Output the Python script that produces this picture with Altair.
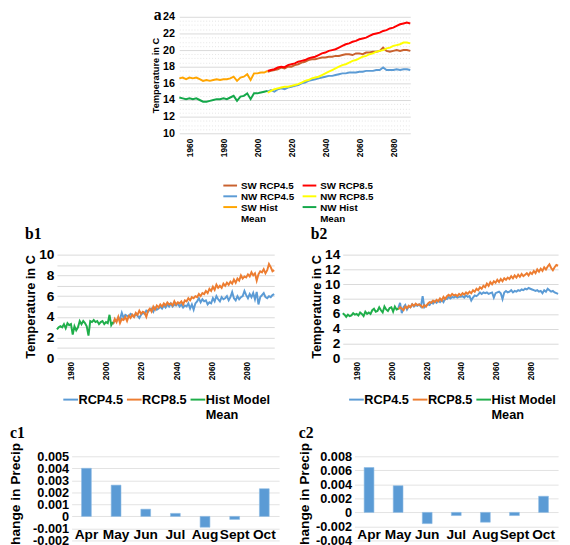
import altair as alt
import pandas as pd

FONT = "Liberation Sans"
SERIF = "Liberation Serif"

# ---------------- Panel a data ----------------
a_hist_years = list(range(1954, 2007, 2))
a_sw_hist = [16.6, 16.7, 16.5, 16.7, 16.6, 16.7, 16.5, 16.3, 16.4, 16.3,
             16.4, 16.5, 16.4, 16.5, 16.5, 16.6, 16.8, 16.3, 16.7, 16.8,
             17.1, 16.4, 17.2, 17.2, 17.3, 17.3, 17.5]
a_nw_hist = [14.3, 14.2, 14.1, 14.2, 14.1, 14.2, 14.0, 13.8, 13.8, 13.9,
             14.0, 14.1, 14.1, 14.2, 14.1, 14.3, 14.5, 13.9, 14.4, 14.5,
             14.8, 14.1, 14.8, 14.8, 14.9, 15.0, 15.1]
a_rcp_years = list(range(2006, 2091, 2))
a_sw_rcp45 = [17.4, 17.5, 17.6, 17.7, 17.9, 17.8, 18.0, 18.0, 18.2, 18.3,
              18.5, 18.6, 18.8, 18.9, 18.9, 19.0, 19.1, 19.1, 19.2, 19.2,
              19.3, 19.3, 19.4, 19.5, 19.5, 19.4, 19.6, 19.6, 19.5, 19.7,
              19.7, 19.8, 19.8, 19.9, 20.3, 19.9, 19.8, 19.9, 20.0, 19.9,
              20.0, 20.0, 19.9]
a_sw_rcp85 = [17.5, 17.6, 17.7, 17.9, 18.0, 17.95, 18.2, 18.3, 18.4, 18.6,
              18.7, 18.8, 19.0, 19.1, 19.2, 19.4, 19.6, 19.7, 19.9, 20.0,
              20.1, 20.3, 20.5, 20.7, 20.8, 21.0, 21.1, 21.3, 21.4, 21.5,
              21.7, 21.9, 22.0, 22.1, 22.3, 22.4, 22.6, 22.7, 22.9, 23.1,
              23.2, 23.3, 23.2]
a_nw_rcp45 = [15.0, 15.2, 15.0, 15.3, 15.4, 15.3, 15.5, 15.6, 15.7, 15.8,
              16.0, 16.1, 16.3, 16.4, 16.5, 16.6, 16.7, 16.8, 16.9, 16.9,
              17.0, 17.1, 17.2, 17.2, 17.3, 17.3, 17.3, 17.4, 17.4, 17.5,
              17.5, 17.5, 17.6, 17.6, 17.9, 17.6, 17.6, 17.6, 17.7, 17.6,
              17.7, 17.7, 17.6]
a_nw_rcp85 = [14.9, 15.1, 15.3, 15.4, 15.5, 15.6, 15.6, 15.7, 15.8, 15.9,
              16.1, 16.3, 16.4, 16.6, 16.7, 16.8, 17.0, 17.2, 17.4, 17.6,
              17.8, 18.0, 18.2, 18.3, 18.5, 18.7, 18.8, 19.0, 19.2, 19.3,
              19.5, 19.6, 19.8, 19.9, 20.0, 20.2, 20.3, 20.5, 20.6, 20.7,
              20.9, 20.9, 20.8]
a_names = ["SW RCP4.5", "SW RCP8.5", "NW RCP4.5", "NW RCP8.5", "SW Hist Mean", "NW Hist Mean"]
a_colors = ["#c9612e", "#ff0000", "#5b9bd5", "#ffff00", "#ffa500", "#14a84a"]
a_xticks = [1960, 1980, 2000, 2020, 2040, 2060, 2080]
a_yticks = [10, 10.5, 11, 11.5, 12, 12.5, 13, 13.5, 14, 14.5, 15, 15.5, 16, 16.5,
            17, 17.5, 18, 18.5, 19, 19.5, 20, 20.5, 21, 21.5, 22, 22.5, 23, 23.5, 24]

# ---------------- Panel b data ----------------
b_hist_years = list(range(1972, 2005))
b_rcp_years = list(range(2004, 2097))
b1_hist = [2.8, 3.0, 3.1, 3.0, 3.3, 2.9, 3.4, 3.2, 3.3, 2.3,
           3.1, 2.7, 3.0, 3.6, 3.3, 3.6, 3.4, 3.1, 2.2, 3.6,
           3.5, 3.7, 3.5, 3.6, 3.3, 3.5, 3.6, 3.3, 3.5, 3.4,
           4.2, 3.2, 3.5]
b1_rcp45 = [3.3, 3.7, 3.6, 3.9, 3.8, 4.4, 3.9, 4.2, 4.1, 4.0,
            4.3, 4.2, 4.0, 4.3, 4.1, 3.9, 4.2, 4.4, 4.3, 4.6,
            4.5, 4.7, 4.8, 4.5, 4.9, 4.7, 4.8, 5.0, 4.8, 5.1,
            4.9, 5.2, 5.0, 5.3, 5.0, 5.2, 5.1, 5.3, 5.0, 5.2,
            4.9, 5.1, 5.0, 5.3, 4.8, 5.2, 4.7, 5.3, 5.5, 5.8,
            5.4, 5.7, 5.5, 5.6, 5.2, 5.4, 5.3, 5.8, 5.5, 6.0,
            5.7, 5.5, 5.9, 5.7, 5.8, 6.0, 5.6, 5.9, 6.4, 5.8,
            5.6, 6.0, 5.7, 5.9, 6.0, 6.5, 6.1, 5.8, 6.2, 5.9,
            6.3, 5.7, 6.4, 5.2, 5.9, 6.1, 6.3, 5.9, 5.8, 6.0,
            5.9, 6.1, 6.2]
b1_rcp85 = [3.3, 3.8, 3.5, 4.0, 3.4, 3.8, 3.7, 4.0, 3.6, 4.1,
            3.9, 4.2, 4.0, 4.4, 4.2, 4.6, 4.3, 4.5, 4.4, 4.0,
            4.6, 4.8, 4.5, 5.0, 4.7, 5.1, 4.9, 5.2, 5.0, 5.3,
            5.1, 5.4, 5.2, 5.3, 5.1, 5.5, 5.2, 5.4, 5.3, 5.5,
            5.2, 5.6, 5.5, 5.8, 5.6, 5.9, 5.8, 6.0, 5.9, 6.2,
            6.0, 6.3, 6.2, 6.5, 6.3, 6.7, 6.5, 6.9, 6.6, 7.1,
            6.8, 7.0, 6.8, 7.2, 7.0, 7.3, 7.1, 7.4, 7.2, 7.6,
            7.3, 7.7, 7.5, 8.0, 7.7, 7.9, 7.8, 8.1, 7.9, 8.3,
            8.0, 8.2, 7.5, 8.1, 8.4, 8.3, 8.6, 8.2, 8.5, 9.1,
            8.8, 8.4, 8.5]
b2_hist = [6.1, 5.9, 5.6, 5.9, 5.7, 5.8, 6.1, 5.9, 6.0, 5.8,
           6.2, 6.0, 5.7, 6.3, 6.0, 6.2, 6.0, 6.5, 6.7, 6.3,
           6.4, 6.9, 6.5, 6.2, 7.0, 6.6, 6.4, 6.8, 6.9, 6.3,
           7.0, 6.6, 6.7]
b2_rcp45 = [6.8, 7.5, 6.1, 6.9, 7.2, 6.6, 7.0, 6.9, 7.3, 7.0,
            7.2, 7.1, 7.3, 7.0, 8.4, 6.9, 7.1, 7.3, 7.2, 7.6,
            7.4, 7.7, 7.5, 7.8, 7.6, 7.9, 7.6, 8.1, 8.0, 8.3,
            8.1, 8.3, 8.2, 8.4, 8.2, 8.3, 8.3, 8.4, 8.2, 8.5,
            8.3, 8.4, 7.8, 8.2, 8.5, 8.4, 8.6, 8.9, 8.7, 8.9,
            8.8, 8.9, 8.7, 8.8, 8.9, 8.2, 8.8, 8.9, 9.0, 8.8,
            8.0, 8.9, 9.1, 8.9, 9.0, 9.2, 8.9, 9.1, 9.0, 9.2,
            9.1, 9.3, 9.2, 9.4, 9.3, 9.5, 9.4, 9.3, 9.2, 9.1,
            9.2, 9.0, 9.1, 8.8, 9.2, 9.0, 9.4, 9.2, 9.0, 9.1,
            8.9, 8.8, 8.7]
b2_rcp85 = [6.6, 6.9, 6.7, 6.5, 7.0, 6.8, 7.1, 6.9, 7.3, 7.1,
            7.4, 7.2, 7.3, 7.1, 6.9, 7.2, 7.0, 7.4, 7.6, 7.5,
            7.8, 7.6, 7.9, 7.7, 8.1, 7.8, 8.3, 8.0, 8.4, 8.6,
            8.4, 8.7, 8.5, 8.6, 8.4, 8.7, 8.5, 8.8, 8.6, 8.9,
            8.7, 9.0, 8.8, 9.2, 9.0, 9.4, 9.2, 9.6, 9.4, 9.8,
            9.6, 10.1, 9.8, 10.3, 10.0, 10.4, 10.2, 10.6, 10.3, 10.7,
            10.4, 10.8, 10.6, 10.9, 10.7, 11.1, 10.8, 11.2, 10.9, 11.3,
            11.0, 11.4, 11.1, 11.3, 11.5, 11.2, 11.6, 11.4, 11.8, 11.5,
            12.0, 11.7, 12.1, 11.8, 12.3, 12.0, 12.4, 12.7, 12.2, 11.9,
            12.3, 12.6, 12.5]
b_names = ["RCP4.5", "RCP8.5", "Hist Model Mean"]
b_colors = ["#5b9bd5", "#ed7d31", "#1fae4a"]
b_xticks = [1980, 2000, 2020, 2040, 2060, 2080]
b1_yticks = [0, 1, 2, 3, 4, 5, 6, 7, 8, 9, 10]
b2_yticks = [0, 2, 4, 6, 8, 10, 12, 14]

# ---------------- Panel c data ----------------
c_months = ["Apr", "May", "Jun", "Jul", "Aug", "Sept", "Oct"]
c1_vals = [0.0040, 0.0026, 0.0006, 0.00025, -0.0009, -0.00025, 0.0023]
c2_vals = [0.0064, 0.0038, -0.0016, -0.00045, -0.0014, -0.00045, 0.0023]
c1_yticks = [-0.002, -0.001, 0, 0.001, 0.002, 0.003, 0.004, 0.005]
c2_yticks = [-0.004, -0.002, 0, 0.002, 0.004, 0.006, 0.008]


def frame(years, vals, name):
    return pd.DataFrame({"year": years, "temp": vals, "series": name})


a_two_line = ("datum.label == 'SW Hist Mean' ? ['SW Hist', 'Mean'] : "
              "datum.label == 'NW Hist Mean' ? ['NW Hist', 'Mean'] : datum.label")
b_two_line = ("datum.label == 'Hist Model Mean' ? ['Hist Model', 'Mean'] : "
              "[datum.label, ' ']")

# ---------------- build panel a ----------------
a_df = pd.concat([
    frame(a_rcp_years, a_sw_rcp45, "SW RCP4.5"),
    frame(a_rcp_years, a_nw_rcp45, "NW RCP4.5"),
    frame(a_rcp_years, a_sw_rcp85, "SW RCP8.5"),
    frame(a_rcp_years, a_nw_rcp85, "NW RCP8.5"),
    frame(a_hist_years, a_sw_hist, "SW Hist Mean"),
    frame(a_hist_years, a_nw_hist, "NW Hist Mean"),
])

a_lines = alt.Chart(a_df).mark_line(strokeWidth=2).encode(
    x=alt.X("year:Q", scale=alt.Scale(domain=[1954, 2090], nice=False, zero=False),
            axis=alt.Axis(values=a_xticks, labelAngle=-90, format="d", labelFontSize=8.5,
                          labelPadding=5, grid=False, title=None)),
    y=alt.Y("temp:Q", scale=alt.Scale(domain=[10, 24], nice=False, zero=False),
            axis=alt.Axis(values=a_yticks,
                          labelExpr="datum.value % 2 === 0 ? format(datum.value, 'd') : ''",
                          gridDash={"condition": {"test": "datum.value % 2 === 0", "value": []},
                                    "value": [1, 2]},
                          gridColor={"condition": {"test": "datum.value % 2 === 0", "value": "#d9d9d9"},
                                     "value": "#e4e4e4"},
                          title="Temperature in C", titleFontSize=9.5, labelFontSize=11,
                          labelPadding=5, titlePadding=2)),
    color=alt.Color("series:N", scale=alt.Scale(domain=a_names, range=a_colors),
                    legend=alt.Legend(orient="none", legendX=43, legendY=171, columns=2,
                                      direction="horizontal", title=None,
                                      symbolType="M-1,-1.2L3.67,-1.2", symbolSize=36,
                                      symbolStrokeWidth=2, labelFontSize=10,
                                      labelBaseline="alphabetic", labelExpr=a_two_line,
                                      rowPadding=1, columnPadding=4, labelOffset=10)),
)
a_tag = alt.Chart(pd.DataFrame({"tag": ["a"]})).mark_text(
    font=SERIF, fontSize=16, fontWeight="bold", align="right", baseline="alphabetic",
    color="black"
).encode(text="tag:N", x=alt.value(-18), y=alt.value(3))
panel_a = alt.layer(a_lines, a_tag).properties(width=236, height=119)


def b_panel(hist, r45, r85, yticks, ymax, label, lexpr, w):
    df = pd.concat([
        frame(b_rcp_years, r45, "RCP4.5"),
        frame(b_rcp_years, r85, "RCP8.5"),
        frame(b_hist_years, hist, "Hist Model Mean"),
    ])
    return alt.Chart(df).mark_line(strokeWidth=2).encode(
        x=alt.X("year:Q", scale=alt.Scale(domain=[1972, 2096], nice=False, zero=False),
                axis=alt.Axis(values=b_xticks, labelAngle=-90, format="d", labelFontSize=8.5,
                              labelPadding=3, grid=False, title=None)),
        y=alt.Y("temp:Q", scale=alt.Scale(domain=[0, ymax], nice=False),
                axis=alt.Axis(values=yticks, labelExpr=lexpr, title="Temperature in C",
                              titleFontSize=13, labelFontSize=14, labelPadding=3,
                              titlePadding=1)),
        color=alt.Color("series:N", scale=alt.Scale(domain=b_names, range=b_colors),
                        legend=alt.Legend(orient="none", legendX=3, legendY=146,
                                          direction="horizontal", title=None,
                                          symbolType="M-1,-1.55L4,-1.55", symbolSize=36,
                                          symbolStrokeWidth=2, labelFontSize=13,
                                          labelBaseline="alphabetic", labelExpr=b_two_line,
                                          columnPadding=-3, labelOffset=6)),
    ).properties(width=w, height=106,
                 title=alt.TitleParams(label, anchor="start", offset=6))


panel_b1 = b_panel(b1_hist, b1_rcp45, b1_rcp85, b1_yticks, 10, "b1",
                   "datum.value % 2 === 0 ? datum.label : ''", 222)
panel_b2 = b_panel(b2_hist, b2_rcp45, b2_rcp85, b2_yticks, 14, "b2", "datum.label", 220)

c_label = ("datum.value === 0 ? '0' : (datum.value < 0 ? '-' : '') + "
           "format(abs(datum.value), '.3f')")


def c_panel(vals, yticks, ymin, ymax, label, tpad, w):
    df = pd.DataFrame({"month": c_months, "change": vals})
    return alt.Chart(df).mark_bar(size=10, color="#5b9bd5", stroke="#8dbbe4",
                                  strokeWidth=0.6).encode(
        x=alt.X("month:N", sort=c_months, scale=alt.Scale(paddingInner=0, paddingOuter=0),
                axis=alt.Axis(labelAngle=0, labelFontSize=14, labelPadding=0, offset=-13,
                              grid=False, title=None)),
        y=alt.Y("change:Q", scale=alt.Scale(domain=[ymin, ymax], nice=False, zero=False),
                axis=alt.Axis(values=yticks, labelExpr=c_label, title="Change in Precip",
                              titleFontSize=14, labelFontSize=13, labelPadding=3,
                              titlePadding=tpad, gridColor="#e2e2e2")),
    ).properties(width=w, height=86,
                 title=alt.TitleParams(label, anchor="start", dx=1, offset=2))


panel_c1 = c_panel(c1_vals, c1_yticks, -0.002, 0.005, "c1", 10, 212)
panel_c2 = c_panel(c2_vals, c2_yticks, -0.004, 0.008, "c2", 4, 208)


def spacer(w):
    return alt.Chart(pd.DataFrame({"v": [0]})).mark_point(opacity=0, size=0).encode(
        x=alt.X("v:Q", axis=None), y=alt.Y("v:Q", axis=None)
    ).properties(width=w, height=1)


def indep(c):
    return c.resolve_scale(color="independent").resolve_legend(color="independent")


row_a = indep(alt.hconcat(spacer(145), panel_a, spacing=0))
row_b = indep(alt.hconcat(spacer(17), indep(alt.hconcat(panel_b1, panel_b2, spacing=33)), spacing=0))
row_c = indep(alt.hconcat(spacer(1), indep(alt.hconcat(panel_c1, panel_c2, spacing=19)), spacing=0))

chart = indep(alt.vconcat(row_a, row_b, row_c, spacing=2)).properties(
    padding={"left": 0, "top": -7, "right": 0, "bottom": 0}
).configure_view(stroke=None).configure_axis(
    domain=False, ticks=False, labelFont=FONT, titleFont=FONT,
    labelFontWeight="bold", titleFontWeight="bold", labelColor="black",
    titleColor="black", gridColor="#d9d9d9", labelOverlap=False
).configure_legend(
    labelFont=FONT, labelFontWeight="bold", labelColor="black"
).configure_title(
    font=SERIF, fontSize=16, fontWeight="bold", color="black", anchor="start", offset=2
)

chart.save("out.html", embed_options={"renderer": "svg", "actions": False})
